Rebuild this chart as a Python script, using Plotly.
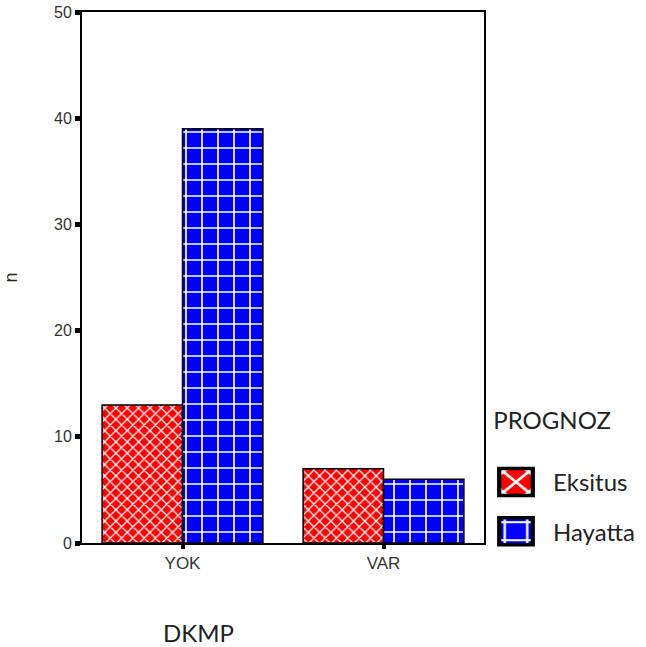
import plotly.graph_objects as go

categories = ["YOK", "VAR"]
eksitus = [13, 7]
hayatta = [39, 6]
y_ticks = [0, 10, 20, 30, 40, 50]

fig = go.Figure()
fig.add_trace(go.Bar(
    x=categories, y=eksitus, name="Eksitus", legendgroup="e",
    marker=dict(color="#FF0000", line=dict(color="black", width=1.5),
                pattern=dict(shape="x", bgcolor="#FF0000", fgcolor="white",
                             size=8, solidity=0.3, fillmode="replace")),
))
fig.add_trace(go.Bar(
    x=categories, y=hayatta, name="Hayatta", legendgroup="h",
    marker=dict(color="#0000FF", line=dict(color="black", width=1.5),
                pattern=dict(shape="+", bgcolor="#0000FF", fgcolor="white",
                             size=16, solidity=0.2, fillmode="replace")),
))

tick_font = dict(family="Liberation Sans, Arial", size=16, color="#333")
big_font = dict(family="Lato, Open Sans", size=24, color="#222")

PLOT_L, PLOT_R, PLOT_T, PLOT_B = 82, 484, 12, 543
W = PLOT_R - PLOT_L
H = PLOT_B - PLOT_T

fig.update_layout(
    width=646, height=647,
    margin=dict(l=PLOT_L, r=646 - PLOT_R, t=PLOT_T, b=647 - PLOT_B, autoexpand=False),
    paper_bgcolor="white", plot_bgcolor="white",
    barmode="group", bargap=0.2, bargroupgap=0,
    showlegend=True,
    legend=dict(
        title=dict(text="\u00a0\u00a0PROGNOZ<br> ", font=big_font),
        font=big_font,
        x=(479 - PLOT_L) / W, xanchor="left", y=0.274, yanchor="top",
        traceorder="grouped", tracegroupgap=15, itemwidth=64,
        bgcolor="rgba(0,0,0,0)",
    ),
    xaxis=dict(
        range=[-0.5, 1.5], showline=True, linecolor="black", linewidth=2,
        mirror=True, ticks="outside", ticklen=4, tickwidth=4, tickcolor="black",
        tickfont=dict(family="Liberation Sans, Arial", size=17, color="#333"),
        showgrid=False, zeroline=False, automargin=False,
    ),
    yaxis=dict(
        range=[0, 50], tickvals=y_ticks, showline=True, linecolor="black",
        linewidth=2, mirror=True, ticks="outside", ticklen=5, tickwidth=5,
        tickcolor="black", tickfont=tick_font, showgrid=False, zeroline=False,
        automargin=False,
        title=dict(text="n", font=dict(family="Liberation Sans, Arial", size=18, color="#222"),
                   standoff=32),
    ),
    annotations=[dict(
        text="DKMP", x=(198 - PLOT_L) / W, xref="paper",
        y=-(632 - PLOT_B) / H, yref="paper",
        xanchor="center", yanchor="middle",
        showarrow=False, font=big_font,
    )],
)

post = """
var gd = document.getElementById('{plot_id}');
gd.querySelectorAll('.legend .legendpoints path').forEach(function(p){
  var t = p.getAttribute('transform') || '';
  p.setAttribute('transform', t + ' scale(2.8,2.25)');
});
"""
fig.write_html("out.html", post_script=post)
